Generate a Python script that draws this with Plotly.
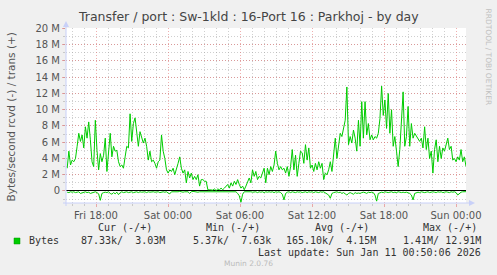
import plotly.graph_objects as go
import pandas as pd

# ---- data (values in millions of bytes/second) ----
trans_seg1 = [2.8, 4.9, 3.2, 3.8, 3.6, 4.0, 5.5, 7.1, 6.1, 6.9, 5.3, 7.9, 6.5, 8.5, 6.3, 3.6, 3.0, 8.7,
              5.0, 2.6, 4.6, 3.6, 4.4, 6.5, 2.4, 5.0, 7.1, 4.2, 5.5, 4.9, 5.0, 3.6, 3.0, 3.2, 2.8, 4.2,
              5.5, 5.3, 9.5, 6.1, 8.3]
trans_seg2 = [9.0, 7.5, 5.5, 7.3, 6.7, 5.9, 6.5, 5.5, 3.8, 4.9, 3.6, 3.8, 3.4, 2.8, 3.6, 3.8, 6.9, 4.9,
              4.0, 2.6, 2.2, 2.6, 2.4, 2.8, 2.0, 2.6, 3.4, 4.2, 2.8, 2.2, 2.6, 1.0, 2.4, 1.6, 2.2, 1.4,
              1.8, 1.4, 2.0, 0.6, 1.4]
trans_seg3 = [1.4, 1.2, 1.2, 0.15, 0.15, 0.15, 0.1, 0.25, 0.05, 0.25, 0.15, 0.35, 0.15, 0.35, 0.6, 0.8,
              0.35, 1.0, 0.6, 1.2, 0.8, 1.4, 0.8, 0.35, 0.6, 0.15, 0.6, 1.0, 1.6, 1.0, 2.6, 1.8, 2.4,
              1.4, 1.8, 1.6, 2.2, 2.8, 1.0, 2.8, 2.0]
trans_seg4 = [3.0, 2.4, 3.2, 4.9, 3.4, 2.6, 3.0, 2.6, 2.8, 2.2, 3.0, 1.8, 3.0, 5.1, 2.6, 4.4, 1.8, 3.4,
              4.9, 4.7, 3.4, 5.7, 3.8, 5.3, 2.8, 3.2, 2.4, 3.4, 2.6, 3.6, 2.8, 3.4, 1.4, 2.2, 2.0, 2.6,
              3.6, 2.4, 4.2, 6.5, 4.0]
trans_seg5 = [5.5, 7.1, 6.7, 7.9, 8.7, 12.8, 5.7, 6.7, 5.9, 7.5, 6.5, 4.9, 8.7, 5.5, 11.0, 6.5, 11.0,
              6.9, 8.3, 6.3, 6.9, 6.3, 6.7, 6.5, 7.1, 8.9, 12.9, 9.3, 11.2, 7.7, 12.0, 7.1, 10.0, 5.5,
              6.7, 4.9, 3.0, 5.1, 8.7, 12.2]
trans_seg6 = [5.5, 6.7, 10.4, 5.5, 8.3, 6.5, 7.1, 6.7, 6.5, 6.1, 6.5, 5.3, 7.9, 5.1, 6.5, 4.0, 4.9, 2.2,
              5.1, 6.3, 3.6, 5.5, 4.0, 5.3, 4.9, 5.7, 6.5, 5.1, 5.5, 3.8, 4.0, 3.6, 4.2, 3.8, 5.1, 3.6,
              4.2, 3.03]

rcvd_seg1 = [0.15, 0.2, 0.1, 0.15, 0.1, 0.2, 0.15, 0.1, 0.3, 0.2, 0.15, 0.1, 0.2, 0.15, 0.3, 0.2, 0.15,
             0.1, 0.2, 0.35, 1.15, 0.3, 0.2, 0.15, 0.2, 0.1, 0.3, 0.4, 0.2, 0.35, 0.15, 0.45, 0.2, 0.1,
             0.2, 0.15, 0.1, 0.2, 0.15, 0.1, 0.2]
rcvd_seg2 = [0.15, 0.1, 0.2, 0.1, 0.15, 0.1, 0.1, 0.2, 0.1, 0.15, 0.1, 0.1, 0.15, 0.1, 0.1, 0.2, 0.1,
             0.1, 0.15, 0.1, 0.25, 0.35, 0.1, 0.1, 0.15, 0.1, 0.1, 0.05, 0.1, 0.15, 0.1, 0.1, 0.1, 0.3,
             0.1, 0.05, 0.1, 0.1, 0.15, 0.1, 0.1]
rcvd_seg3 = [0.1, 0.05, 0.1, 0.05, 0.1, 0.05, 0.05, 0.1, 0.05, 0.05, 0.1, 0.05, 0.05, 0.1, 0.05, 0.1,
             0.05, 0.05, 0.1, 0.05, 0.1, 0.3, 0.6, 1.4, 0.4, 0.1, 0.1, 0.05, 0.1, 0.1, 0.15, 0.1, 0.1,
             0.2, 0.1, 0.15, 0.1, 0.2, 0.1, 0.15, 0.1]
rcvd_seg4 = [0.15, 0.1, 0.2, 0.1, 0.15, 0.1, 0.2, 0.4, 1.1, 0.3, 0.15, 0.1, 0.2, 0.1, 0.15, 0.2, 0.1,
             0.15, 0.1, 0.2, 0.15, 0.1, 0.2, 0.1, 0.15, 0.1, 0.2, 0.1, 0.15, 0.2, 0.1, 0.15, 0.1, 0.2,
             0.3, 0.5, 0.9, 0.3, 0.2, 0.15, 0.1]
rcvd_seg5 = [0.2, 0.15, 0.3, 0.2, 0.35, 0.5, 0.3, 0.2, 0.3, 0.4, 0.2, 0.3, 0.25, 0.3, 0.2, 0.15, 0.2,
             0.3, 0.15, 0.2, 0.15, 0.2, 0.5, 1.25, 0.3, 0.2, 0.15, 0.2, 0.1, 0.15, 0.2, 0.15, 0.1, 0.2,
             0.15, 0.2, 0.1, 0.15, 0.2, 0.15]
rcvd_seg6 = [0.2, 0.15, 0.2, 0.3, 0.5, 1.1, 0.3, 0.2, 0.15, 0.2, 0.1, 0.15, 0.2, 0.15, 0.1, 0.2, 0.15,
             0.1, 0.15, 0.2, 0.1, 0.15, 0.1, 0.2, 0.15, 0.1, 0.15, 0.2, 0.1, 0.15, 0.1, 0.2, 0.5, 0.3,
             0.15, 0.1, 0.1, 0.087]

data_start = "2026-01-09 15:36"
data_end = "2026-01-11 00:50"
x_range = ["2026-01-09 15:30", "2026-01-11 00:50"]
x_tick0 = "2026-01-09 18:00"

y_tick_vals_m = [0, 2, 4, 6, 8, 10, 12, 14, 16, 18, 20]
y_tick_text = ["0", "2 M", "4 M", "6 M", "8 M", "10 M", "12 M", "14 M", "16 M", "18 M", "20 M"]
y_range_m = [-1.48, 20.06]

legend_headers = ["Cur (-/+)", "Min (-/+)", "Avg (-/+)", "Max (-/+)"]
legend_values = ["87.33k/\u00a0\u00a03.03M", "5.37k/\u00a0\u00a07.63k", "165.10k/\u00a0\u00a04.15M", "1.41M/\u00a012.91M"]

title_text = "Transfer / port : Sw-1kld : 16-Port 16 : Parkhoj - by day"
y_title = "Bytes/second rcvd (-) / trans (+)"

trans = trans_seg1 + trans_seg2 + trans_seg3 + trans_seg4 + trans_seg5 + trans_seg6
rcvd = rcvd_seg1 + rcvd_seg2 + rcvd_seg3 + rcvd_seg4 + rcvd_seg5 + rcvd_seg6

times_t = pd.date_range(data_start, data_end, periods=len(trans))
times_r = pd.date_range(data_start, data_end, periods=len(rcvd))

GREEN = "#00CC00"
MAJ = "rgba(225,110,110,0.55)"
MIN = "rgba(160,160,160,0.5)"
AXC = "#C8D0F8"
TXT = "#555555"
DOTS = "1px,2px"

# pixel -> paper helpers (plot area: x 66..466, y 28..203)
L, R, T, B = 66, 466, 28, 203
def px(x):
    return (x - L) / (R - L)
def py(y):
    return (B - y) / (B - T)

fig = go.Figure()
fig.add_trace(go.Scatter(x=times_r, y=[-v * 1e6 for v in rcvd], mode="lines",
                         line=dict(color=GREEN, width=1), hoverinfo="skip"))
fig.add_trace(go.Scatter(x=times_t, y=[v * 1e6 for v in trans], mode="lines",
                         line=dict(color=GREEN, width=1), hoverinfo="skip"))

fig.update_layout(
    width=497, height=275,
    margin=dict(l=L, r=497 - R, t=T, b=275 - B),
    paper_bgcolor="#F0F0F0", plot_bgcolor="white",
    showlegend=False,
    font=dict(family="DejaVu Sans", size=10, color=TXT),
)
fig.update_xaxes(
    type="date", range=x_range, tickformat="%a %H:%M",
    tick0=x_tick0, dtick=6 * 3600 * 1000,
    ticks="outside", ticklen=3, tickcolor=MAJ, tickwidth=1,
    showgrid=True, gridcolor=MAJ, griddash=DOTS, gridwidth=1,
    minor=dict(dtick=3600 * 1000, tick0=x_tick0, ticks="outside", ticklen=2, tickcolor=MIN,
               showgrid=True, gridcolor=MIN, griddash=DOTS, gridwidth=1),
    showline=False, zeroline=False,
    tickfont=dict(family="DejaVu Sans", size=10, color=TXT),
)
fig.update_yaxes(
    range=[v * 1e6 for v in y_range_m],
    tickmode="array", tickvals=[v * 1e6 for v in y_tick_vals_m], ticktext=y_tick_text,
    ticks="outside", ticklen=3, tickcolor=MAJ,
    showgrid=True, gridcolor=MAJ, griddash=DOTS, gridwidth=1,
    minor=dict(tickmode="linear", tick0=0, dtick=1e6, ticks="outside", ticklen=2, tickcolor=MIN,
               showgrid=True, gridcolor=MIN, griddash=DOTS, gridwidth=1),
    showline=False, zeroline=True, zerolinecolor="black", zerolinewidth=1,
    tickfont=dict(family="DejaVu Sans", size=10, color=TXT),
)

shapes = [
    # axes with arrows
    dict(type="line", xref="paper", yref="paper", x0=px(66), x1=px(66), y0=py(206), y1=py(25),
         line=dict(color=AXC, width=1)),
    dict(type="path", xref="paper", yref="paper",
         path=f"M {px(63)} {py(27)} L {px(69)} {py(27)} L {px(66)} {py(21)} Z",
         fillcolor=AXC, line=dict(color=AXC, width=0)),
    dict(type="line", xref="paper", yref="paper", x0=px(63), x1=px(470), y0=py(203), y1=py(203),
         line=dict(color=AXC, width=1)),
    dict(type="path", xref="paper", yref="paper",
         path=f"M {px(469)} {py(200)} L {px(469)} {py(206)} L {px(475)} {py(203)} Z",
         fillcolor=AXC, line=dict(color=AXC, width=0)),
    # legend swatch
    dict(type="rect", xref="paper", yref="paper", x0=px(14), x1=px(20), y0=py(244), y1=py(238),
         fillcolor=GREEN, line=dict(color="#009900", width=0.5)),
]
fig.update_layout(shapes=shapes)

MONO = "DejaVu Sans Mono"
ann = []
ann.append(dict(text=title_text, x=px(248.5), y=py(17), xref="paper", yref="paper",
                showarrow=False, xanchor="center", yanchor="middle",
                font=dict(family="DejaVu Sans", size=12.5, color="#444444")))
ann.append(dict(text=y_title, x=px(10), y=py(117.5), xref="paper", yref="paper",
                showarrow=False, xanchor="center", yanchor="middle", textangle=-90,
                font=dict(family="DejaVu Sans", size=10.5, color=TXT)))
ann.append(dict(text="RRDTOOL / TOBI OETIKER", x=px(488.5), y=py(57), xref="paper", yref="paper",
                showarrow=False, xanchor="center", yanchor="middle", textangle=90,
                font=dict(family="DejaVu Sans", size=7.5, color="#C0C0C0")))
header_centers = [125, 233, 341.5, 449.5]
for h, cx in zip(legend_headers, header_centers):
    ann.append(dict(text=h, x=px(cx), y=py(227.5), xref="paper", yref="paper",
                    showarrow=False, xanchor="center", yanchor="middle",
                    font=dict(family=MONO, size=10, color="#333333")))
ann.append(dict(text="Bytes", x=px(27), y=py(240.5), xref="paper", yref="paper",
                showarrow=False, xanchor="left", yanchor="middle",
                font=dict(family=MONO, size=10, color="#333333")))
value_rights = [167, 273, 378, 483]
for v, rx in zip(legend_values, value_rights):
    ann.append(dict(text=v, x=px(rx), y=py(240.5), xref="paper", yref="paper",
                    showarrow=False, xanchor="right", yanchor="middle",
                    font=dict(family=MONO, size=10, color="#333333")))
ann.append(dict(text="Last update: Sun Jan 11 00:50:06 2026", x=px(483), y=py(252), xref="paper",
                yref="paper", showarrow=False, xanchor="right", yanchor="middle",
                font=dict(family=MONO, size=10, color="#333333")))
ann.append(dict(text="Munin 2.0.76", x=px(248), y=py(263.5), xref="paper", yref="paper",
                showarrow=False, xanchor="center", yanchor="middle",
                font=dict(family="DejaVu Sans", size=7.5, color="#BBBBBB")))
fig.update_layout(annotations=ann)

fig.write_html("out.html")
